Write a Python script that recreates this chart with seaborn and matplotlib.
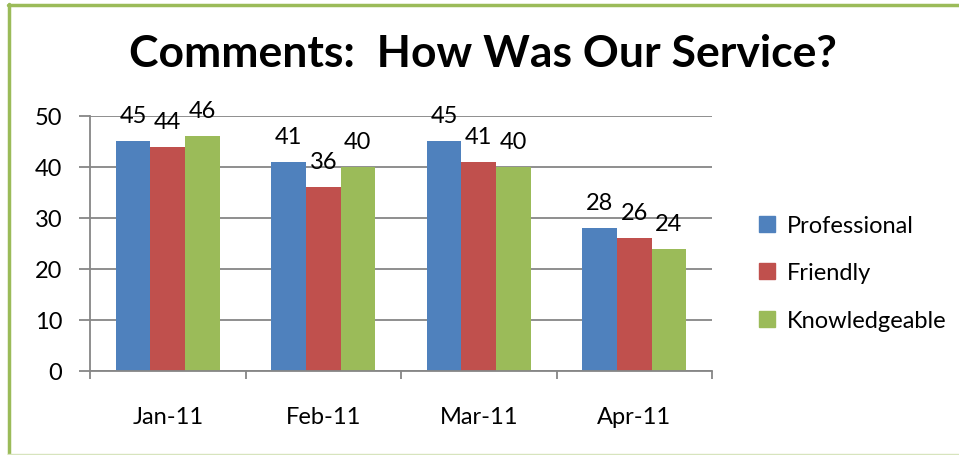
import pandas as pd
import matplotlib.pyplot as plt
import seaborn as sns
from matplotlib.lines import Line2D
from matplotlib.patches import Patch

meses = ['Jan-11', 'Feb-11', 'Mar-11', 'Apr-11']
professional = [45, 41, 45, 28]
friendly = [44, 36, 41, 26]
knowledgeable = [46, 40, 40, 24]
series = ['Professional', 'Friendly', 'Knowledgeable']
colores = ['#4F81BD', '#C0504D', '#9BBB59']
yticks = [0, 10, 20, 30, 40, 50]

datos = pd.DataFrame({
    'mes': meses * 3,
    'serie': [s for s in series for _ in meses],
    'valor': professional + friendly + knowledgeable,
})

sns.set_style('white')
plt.rcParams['font.family'] = ['Lato', 'DejaVu Sans']
plt.rcParams['text.color'] = 'black'
plt.rcParams['xtick.color'] = 'black'
plt.rcParams['ytick.color'] = 'black'

fig = plt.figure(figsize=(9.59, 4.56), dpi=100)
W, H = 959, 456
ax = fig.add_axes([90 / W, 1 - 372 / H, (712 - 90) / W, (372 - 117) / H])

sns.barplot(data=datos, x='mes', y='valor', hue='serie', hue_order=series,
            palette=colores, width=0.667, linewidth=0, saturation=1,
            ax=ax, legend=False)

ax.set_ylim(0, 50)
ax.set_xlim(-0.5, 3.5)
ax.set_yticks(yticks)
ax.yaxis.grid(True, color='#868686', linewidth=1.3)
ax.set_axisbelow(True)
for lado in ['top', 'right']:
    ax.spines[lado].set_visible(False)
for lado in ['left', 'bottom']:
    ax.spines[lado].set_color('#868686')
    ax.spines[lado].set_linewidth(1.3)

ax.set_xlabel('')
ax.set_ylabel('')
ax.tick_params(axis='y', left=True, length=8, width=1.3, color='#868686',
               labelsize=17, pad=12)
ax.tick_params(axis='x', bottom=False, labelsize=17, pad=22)
ax.set_xticks([-0.5, 0.5, 1.5, 2.5, 3.5], minor=True)
ax.tick_params(axis='x', which='minor', bottom=True, length=6, width=1.3,
               color='#868686')

for barras in ax.containers:
    for barra, valor in zip(barras, barras.datavalues):
        ax.annotate(f'{valor:.0f}', (barra.get_x() + barra.get_width() / 2, valor),
                    xytext=(0, 15), textcoords='offset pixels',
                    ha='center', va='bottom', fontsize=17, annotation_clip=False)

fig.text(483 / W, 1 - 54 / H, 'Comments:  How Was Our Service?',
         ha='center', va='center', fontsize=32, fontweight='bold')

manejadores = [Patch(color=c, label=s) for c, s in zip(colores, series)]
fig.legend(handles=manejadores, loc='center left',
           bbox_to_anchor=(738 / W, 1 - 274 / H), frameon=False,
           fontsize=17, handlelength=0.65, handleheight=0.65,
           handletextpad=0.5, labelspacing=1.12)

fig.add_artist(Line2D([9 / W, 9 / W], [0, 1 - 5 / H], color='#9BBB59', linewidth=2.5))
fig.add_artist(Line2D([8 / W, 1], [1 - 6 / H, 1 - 6 / H], color='#9BBB59', linewidth=2.5))
fig.add_artist(Line2D([8 / W, 1], [1 / H, 1 / H], color='#D7E4BD', linewidth=1))

fig.savefig('out.png', dpi=100)
